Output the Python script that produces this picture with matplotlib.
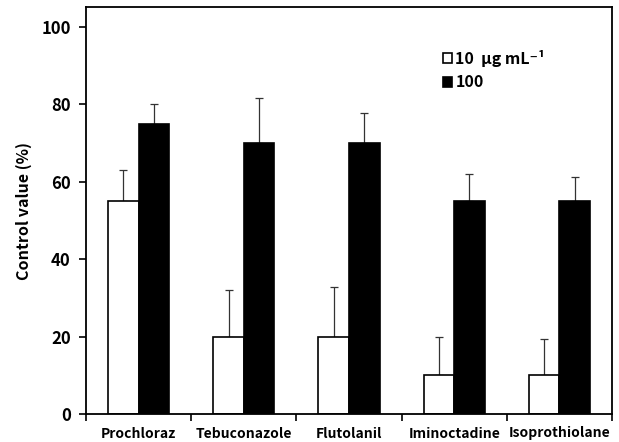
import matplotlib
matplotlib.use("Agg")
import matplotlib.pyplot as plt
import numpy as np

plt.rcParams['font.family'] = ['Noto Sans CJK KR', 'DejaVu Sans']
plt.rcParams['font.weight'] = 'bold'
plt.rcParams['axes.labelweight'] = 'bold'

FUNGICIDES = ["Prochloraz", "Tebuconazole", "Flutolanil", "Iminoctadine", "Isoprothiolane"]

LOW_MEAN = [55, 20, 20, 10, 10]      # 10 ug/mL
LOW_ERR = [8, 12, 12.7, 10, 9.4]

HIGH_MEAN = [75, 70, 70, 55, 55]     # 100 ug/mL
HIGH_ERR = [5, 11.6, 7.8, 7.1, 6.2]


def plot():
    fig = plt.figure(figsize=(6.19, 4.42), dpi=100)
    ax = fig.add_axes([86 / 619, 28 / 442, 526 / 619, 407 / 442])

    x = np.arange(len(FUNGICIDES))
    w = 0.29

    ax.bar(x - w / 2, LOW_MEAN, w, color="white", edgecolor="black", linewidth=1.2,
           label="10  μg mL⁻¹", zorder=2)
    ax.bar(x + w / 2, HIGH_MEAN, w, color="black", edgecolor="black", linewidth=1.2,
           label="100", zorder=2)

    ax.errorbar(x - w / 2, LOW_MEAN, yerr=[np.zeros(5), LOW_ERR], fmt="none",
                ecolor="#333333", elinewidth=0.9, capsize=3, capthick=0.9, zorder=1)
    ax.errorbar(x + w / 2, HIGH_MEAN, yerr=[np.zeros(5), HIGH_ERR], fmt="none",
                ecolor="#333333", elinewidth=0.9, capsize=3, capthick=0.9, zorder=1)

    ax.set_xlim(-0.5, len(FUNGICIDES) - 0.5)
    ax.set_ylim(0, 105.2)
    ax.set_yticks([0, 20, 40, 60, 80, 100])

    ax.set_xticks(np.arange(len(FUNGICIDES) + 1) - 0.5)
    ax.set_xticklabels([])
    ax.set_xticks(x, minor=True)
    ax.set_xticklabels(FUNGICIDES, minor=True, fontsize=10)
    ax.tick_params(axis="x", which="minor", length=0, pad=9)
    ax.tick_params(axis="x", which="major", length=5, width=1.2)
    ax.tick_params(axis="y", length=5, width=1.2, labelsize=12, pad=6)

    for s in ax.spines.values():
        s.set_linewidth(1.3)

    ax.set_ylabel("Control value (%)", fontsize=11.5, fontweight="bold", labelpad=7)

    ax.legend(loc="upper left", bbox_to_anchor=(0.666, 0.91), frameon=False,
              fontsize=11.5, handlelength=0.6, handleheight=0.6, handletextpad=0.2,
              labelspacing=0.45, borderaxespad=0)

    fig.savefig("out.png", dpi=100)
    plt.close(fig)


if __name__ == "__main__":
    plot()
